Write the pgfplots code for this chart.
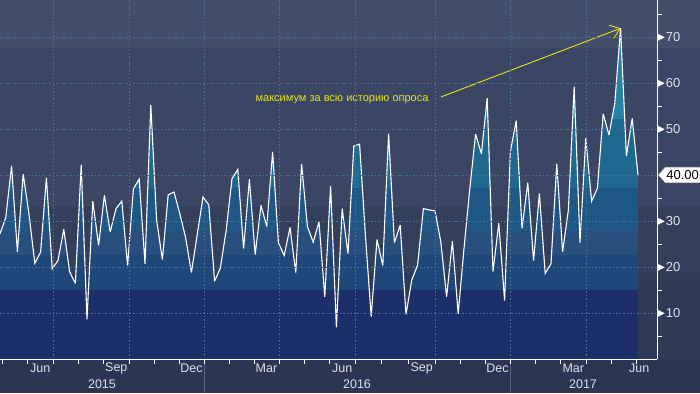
\documentclass[border=0pt]{standalone}
\usepackage{fontspec}
\setmainfont{Liberation Sans}
\usepackage{pgfplots}
\pgfplotsset{compat=1.18}
\usepackage{pgfplotstable}
\usetikzlibrary{arrows.meta,shapes.symbols}

\definecolor{bgbot}{HTML}{2C3652}
\definecolor{bgA}{HTML}{2F3A56}
\definecolor{bgB}{HTML}{343F5B}
\definecolor{bgC}{HTML}{3B4664}
\definecolor{bgD}{HTML}{434E6A}
\definecolor{fA}{HTML}{2683A6}
\definecolor{fB}{HTML}{1F6990}
\definecolor{fC}{HTML}{1F5886}
\definecolor{fD}{HTML}{294F7F}
\definecolor{fE}{HTML}{1F4779}
\definecolor{fF}{HTML}{1C2F6A}
\definecolor{gridc}{HTML}{4B7393}
\definecolor{lblc}{HTML}{DDE1E9}
\definecolor{annot}{RGB}{228,228,20}
\definecolor{sepc}{HTML}{5B6680}

\pgfplotstableread{
i v
0 27.2
1 30.8
2 42.0
3 23.3
4 40.2
5 31.5
6 20.8
7 23.2
8 39.4
9 19.6
10 21.4
11 28.2
12 19.0
13 16.4
14 42.2
15 8.6
16 34.3
17 24.7
18 35.6
19 27.6
20 32.7
21 34.3
22 20.3
23 37.0
24 39.1
25 20.7
26 55.2
27 30.2
28 21.6
29 35.7
30 36.3
31 31.6
32 26.4
33 18.8
34 27.0
35 35.2
36 33.5
37 16.9
38 19.8
39 28.0
40 39.2
41 41.2
42 24.0
43 39.1
44 22.7
45 33.4
46 28.8
47 45.0
48 25.3
49 22.5
50 28.6
51 18.8
52 42.4
53 28.8
54 25.4
55 29.8
56 13.5
57 37.6
58 6.9
59 32.7
60 22.9
61 46.3
62 46.7
63 27.0
64 9.2
65 26.0
66 20.3
67 49.0
68 25.3
69 29.1
70 9.7
71 17.2
72 20.4
73 32.7
74 32.4
75 32.2
76 25.5
77 13.5
78 25.6
79 9.8
80 24.0
81 37.0
82 48.9
83 44.6
84 56.7
85 19.0
86 29.5
87 12.7
88 45.1
89 51.8
90 28.4
91 38.3
92 21.4
93 36.0
94 18.6
95 20.7
96 42.4
97 23.3
98 32.4
99 59.2
100 25.3
101 48.0
102 34.3
103 37.1
104 53.3
105 48.7
106 55.6
107 71.9
108 44.1
109 52.3
110 40.0
}\datatable

\begin{document}
\begin{tikzpicture}[x=1bp,y=1bp]
\path[use as bounding box] (0,0) rectangle (700,393);
\fill[bgbot] (0,0) rectangle (700,393);
\fill[bgA] (0,34) rectangle (700,120);
\fill[bgB] (0,120) rectangle (700,186);
\fill[bgC] (0,186) rectangle (700,345);
\fill[bgD] (0,345) rectangle (700,393);
\draw[sepc, line width=0.8bp] (204,0) -- (204,31);
\draw[sepc, line width=0.8bp] (510,0) -- (510,31);
\node[lblc, font={\fontsize{12.5bp}{13bp}\selectfont}] at (102,9) {2015};
\node[lblc, font={\fontsize{12.5bp}{13bp}\selectfont}] at (357,9) {2016};
\node[lblc, font={\fontsize{12.5bp}{13bp}\selectfont}] at (583,9) {2017};
\begin{axis}[
  at={(0bp,34bp)}, anchor=south west,
  scale only axis, width=657bp, height=359bp,
  xmin=0, xmax=113.28, ymin=0, ymax=78.04,
  axis x line*=bottom, axis y line*=right,
  axis line style={white, line width=0.9bp, -},
  axis on top,
  clip mode=individual,
  tick align=outside,
  major tick length=0pt,
  minor tick length=4.5bp,
  tick style={white, line width=0.8bp},
  xtick={6.95,20.05,33.02,45.95,59.02,72.7,85.78,98.85,110.2},
  xticklabels={Jun,Sep,Dec,Mar,Jun,Sep,Dec,Mar,Jun},
  minor xtick={0.41,4.78,9.14,13.5,17.86,22.24,26.55,30.86,35.17,39.48,43.79,48.1,52.47,56.84,61.21,65.81,70.4,75.0,79.31,83.62,87.93,92.29,96.67,101.03,105.4,109.78},
  extra x ticks={9.14,22.24,35.17,48.1,61.21,75.0,87.93,101.03},
  extra x tick labels={},
  extra x tick style={grid=major},
  ytick={10,20,30,50,60,70},
  minor ytick={5,15,...,75},
  extra y ticks={40},
  extra y tick labels={},
  extra y tick style={grid=major},
  ymajorgrids,
  major grid style={gridc, line width=0.6bp, dash pattern=on 1.5bp off 2bp},
  xticklabel style={lblc, anchor=center, yshift=-9.5bp, font={\fontsize{12.5bp}{13bp}\selectfont}},
  yticklabel style={lblc, anchor=west, inner sep=0pt, xshift=1bp, font={\fontsize{13bp}{13bp}\selectfont}},
  yticklabel={\tikz[baseline=-0.6ex]\fill[white] (0,-3.3bp) -- (0,3.3bp) -- (6.5bp,0) -- cycle;\hspace{1.2bp}\pgfmathprintnumber{\tick}},
  /pgf/number format/assume math mode=true,
]
\addplot[draw=none, fill=fA] table[x=i,y=v]{\datatable} \closedcycle;
\begin{scope}
\clip (axis cs:-2,0) rectangle (axis cs:120,52);
\addplot[draw=none, fill=fB] table[x=i,y=v]{\datatable} \closedcycle;
\end{scope}
\begin{scope}
\clip (axis cs:-2,0) rectangle (axis cs:120,37);
\addplot[draw=none, fill=fC] table[x=i,y=v]{\datatable} \closedcycle;
\end{scope}
\begin{scope}
\clip (axis cs:-2,0) rectangle (axis cs:120,27.8);
\addplot[draw=none, fill=fD] table[x=i,y=v]{\datatable} \closedcycle;
\end{scope}
\begin{scope}
\clip (axis cs:-2,0) rectangle (axis cs:120,22.4);
\addplot[draw=none, fill=fE] table[x=i,y=v]{\datatable} \closedcycle;
\end{scope}
\begin{scope}
\clip (axis cs:-2,0) rectangle (axis cs:120,15);
\addplot[draw=none, fill=fF] table[x=i,y=v]{\datatable} \closedcycle;
\end{scope}
\addplot[white, line width=1.1bp, line join=miter, miter limit=4] table[x=i,y=v]{\datatable};
\node[annot, font={\fontsize{11bp}{12bp}\selectfont}] at (axis cs:58.97,56.3) {максимум за всю историю опроса};
\draw[annot, line width=0.9bp, -{Straight Barb[length=9bp, width=14bp, line width=0.9bp]}] (axis cs:76.03,56.96) -- (axis cs:107.0,71.9);
\coordinate (p40) at (axis cs:113.28,40);
\end{axis}
\node[signal, signal to=west, signal pointer angle=95, fill=white, draw=black!55, line width=0.5bp, text=black, inner xsep=1.2bp, inner ysep=3.2bp, anchor=west, font={\fontsize{13bp}{13bp}\selectfont}] at ([xshift=0.6bp]p40) {40.00};
\end{tikzpicture}
\end{document}
